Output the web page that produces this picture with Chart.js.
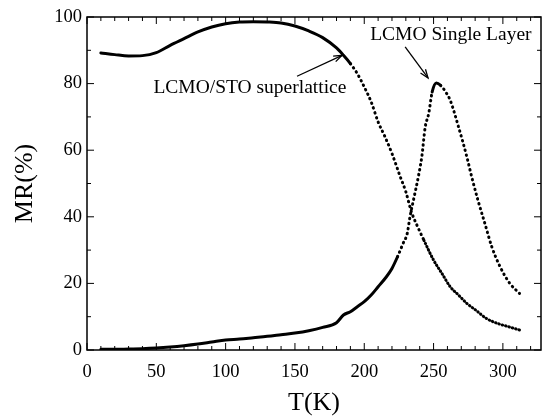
<!DOCTYPE html>
<html>
<head>
<meta charset="utf-8">
<script src="https://cdn.jsdelivr.net/npm/chart.js@4/dist/chart.umd.min.js"></script>
<style>
  html, body { margin: 0; padding: 0; background: #fff; }
  #wrap { width: 543px; height: 416px; }
</style>
</head>
<body>
<div id="wrap"><canvas id="mrChart"></canvas></div>
<script>
// LCMO/STO superlattice
var tempSL = [10, 20, 30, 40, 50, 60, 70, 80, 90, 100, 110, 120, 130, 140, 150, 160, 170, 180, 185, 190,
  195, 200, 205, 210, 215, 220, 226, 230, 234, 238, 243, 250, 256, 262, 268, 274, 281, 288, 296, 304, 312];
var mrSL = [89.2, 88.7, 88.3, 88.4, 89.3, 91.5, 93.5, 95.5, 97, 98, 98.5, 98.6, 98.5, 98.2, 97.3, 95.8, 93.8, 90.7, 88.5, 86,
  83, 79, 74.5, 68.5, 64, 59, 52, 47.5, 41.5, 37.5, 33, 27, 23, 19, 16.5, 14, 11.8, 9.5, 8, 7, 6];

// LCMO single layer
var tempSingle = [10, 20, 30, 40, 50, 60, 70, 80, 90, 100, 110, 120, 130, 140, 150, 160, 170, 180, 185, 190,
  195, 200, 205, 210, 216, 220, 224, 228, 231, 233, 236, 239, 241.5, 244, 246.5, 249, 252, 255, 259.5, 262,
  268, 274, 277.5, 282, 287, 292, 298, 305, 312];
var mrSingle = [0.2, 0.2, 0.3, 0.4, 0.6, 0.9, 1.3, 1.8, 2.4, 3, 3.3, 3.7, 4.1, 4.6, 5.1, 5.8, 6.8, 8.2, 10.5, 11.5,
  13, 14.5, 16.5, 19, 22, 24.5, 28, 32, 35, 40, 46, 52, 58, 67, 71, 77.5, 80.2, 79.5, 77, 75,
  67, 58, 52, 45, 38, 31, 25, 20, 17];

var xTickLabels = [0, 50, 100, 150, 200, 250, 300];
var yTickLabels = [0, 20, 40, 60, 80, 100];

var serif = '"Liberation Serif", "DejaVu Serif", serif';
var dots = [0.5, 4.5];
var tightDots = [0.5, 3];

function toPoints(xs, ys) {
  return xs.map(function(x, i) { return { x: x, y: ys[i] }; });
}

// frame with inward ticks on all four sides, plus the two labels with arrows
var framePlugin = {
  id: 'frame',
  afterDatasetsDraw: function(chart) {
    var ctx = chart.ctx, a = chart.chartArea;
    var xs = chart.scales.x, ys = chart.scales.y;
    ctx.save();
    ctx.strokeStyle = '#000';
    ctx.lineWidth = 1.5;
    ctx.strokeRect(a.left, a.top, a.right - a.left, a.bottom - a.top);
    ctx.lineWidth = 1;
    ctx.beginPath();
    for (var t = 0; t <= 320; t += 10) {
      var px = xs.getPixelForValue(t);
      var len = xTickLabels.indexOf(t) >= 0 ? 7 : 4;
      ctx.moveTo(px, a.bottom); ctx.lineTo(px, a.bottom - len);
      ctx.moveTo(px, a.top); ctx.lineTo(px, a.top + len);
    }
    for (var v = 0; v <= 100; v += 10) {
      var py = ys.getPixelForValue(v);
      var l2 = yTickLabels.indexOf(v) >= 0 ? 7 : 4;
      ctx.moveTo(a.left, py); ctx.lineTo(a.left + l2, py);
      ctx.moveTo(a.right, py); ctx.lineTo(a.right - l2, py);
    }
    ctx.stroke();

    ctx.fillStyle = '#000';
    ctx.font = '19.5px ' + serif;
    ctx.textAlign = 'center';
    ctx.textBaseline = 'middle';
    ctx.fillText('LCMO/STO superlattice', xs.getPixelForValue(117.5), ys.getPixelForValue(78.6));
    ctx.fillText('LCMO Single Layer', xs.getPixelForValue(262.5), ys.getPixelForValue(94.6));

    arrow(ctx, xs.getPixelForValue(151.5), ys.getPixelForValue(82.2), xs.getPixelForValue(184), ys.getPixelForValue(88.5));
    arrow(ctx, xs.getPixelForValue(229.5), ys.getPixelForValue(91), xs.getPixelForValue(246), ys.getPixelForValue(81.7));
    ctx.restore();
  }
};

function arrow(ctx, x0, y0, x1, y1) {
  var ang = Math.atan2(y1 - y0, x1 - x0);
  ctx.lineWidth = 1.3;
  ctx.beginPath();
  ctx.moveTo(x0, y0);
  ctx.lineTo(x1, y1);
  ctx.stroke();
  ctx.beginPath();
  ctx.moveTo(x1 - 9 * Math.cos(ang - 0.35), y1 - 9 * Math.sin(ang - 0.35));
  ctx.lineTo(x1, y1);
  ctx.lineTo(x1 - 9 * Math.cos(ang + 0.35), y1 - 9 * Math.sin(ang + 0.35));
  ctx.stroke();
}

new Chart(document.getElementById('mrChart'), {
  type: 'line',
  data: {
    datasets: [{
      label: 'LCMO/STO superlattice',
      data: toPoints(tempSL, mrSL),
      borderColor: '#000',
      borderWidth: 3,
      borderCapStyle: 'round',
      pointRadius: 0,
      cubicInterpolationMode: 'monotone',
      segment: {
        borderDash: function(c) {
          var x = c.p0.parsed.x;
          if (x >= 243) return tightDots;
          return x >= 190 ? dots : undefined;
        }
      }
    }, {
      label: 'LCMO Single Layer',
      data: toPoints(tempSingle, mrSingle),
      borderColor: '#000',
      borderWidth: 3,
      borderCapStyle: 'round',
      pointRadius: 0,
      cubicInterpolationMode: 'monotone',
      segment: {
        borderDash: function(c) {
          var x = c.p0.parsed.x;
          if (x >= 249 && c.p1.parsed.x <= 255) return undefined;
          return x >= 222 ? dots : undefined;
        }
      }
    }]
  },
  options: {
    responsive: true,
    maintainAspectRatio: false,
    animation: false,
    layout: { padding: { top: 17, right: 2, left: 0, bottom: 0 } },
    plugins: {
      legend: { display: false },
      tooltip: { enabled: false }
    },
    scales: {
      x: {
        type: 'linear',
        min: 0,
        max: 327.5,
        afterFit: function(s) {
          s.height = 66;
          s.paddingLeft = 0;
          s.paddingRight = 0;
        },
        grid: { display: false, drawTicks: false },
        border: { display: false },
        ticks: {
          stepSize: 10,
          autoSkip: false,
          maxRotation: 0,
          padding: 11,
          color: '#000',
          font: { family: serif, size: 18.5 },
          callback: function(v) { return xTickLabels.indexOf(v) >= 0 ? String(v) : ''; }
        },
        title: {
          display: true,
          text: 'T(K)',
          color: '#000',
          font: { family: serif, size: 26, lineHeight: 1 },
          padding: { top: 0, bottom: 0 }
        }
      },
      y: {
        min: 0,
        max: 100,
        afterFit: function(s) {
          s.width = 87;
          s.paddingTop = 0;
          s.paddingBottom = 0;
        },
        grid: { display: false, drawTicks: false },
        border: { display: false },
        ticks: {
          stepSize: 10,
          autoSkip: false,
          padding: 5,
          color: '#000',
          font: { family: serif, size: 18.5 },
          callback: function(v) { return yTickLabels.indexOf(v) >= 0 ? String(v) : ''; }
        },
        title: {
          display: true,
          text: 'MR(%)',
          color: '#000',
          font: { family: serif, size: 26, lineHeight: 1 },
          padding: { top: 12, bottom: 0 }
        }
      }
    }
  },
  plugins: [framePlugin]
});
</script>
</body>
</html>
